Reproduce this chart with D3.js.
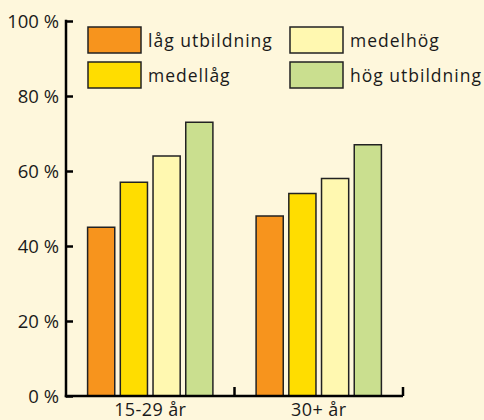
<!DOCTYPE html>
<html>
<head>
<meta charset="utf-8">
<script src="https://cdn.jsdelivr.net/npm/d3@7"></script>
<style>
  html, body { margin: 0; padding: 0; background: #fef7dc; }
  svg { display: block; }
  text { font-family: "Open Sans", "Noto Sans", sans-serif; fill: #1a1a1a; }
</style>
</head>
<body>
<script>
// Age groups along the x axis
const groups = ["15-29 år", "30+ år"];
// Education levels (one bar each per group)
const levels = ["låg utbildning", "medellåg", "medelhög", "hög utbildning"];
// Share in percent, one array per education level, ordered as groups
const lagUtbildning = [45, 48];
const medellag = [57, 54];
const medelhog = [64, 58];
const hogUtbildning = [73, 67];
// Y axis ticks
const yTicks = [0, 20, 40, 60, 80, 100];
const colors = ["#f7941d", "#ffdd00", "#fff8b0", "#cadf8f"];

const series = [lagUtbildning, medellag, medelhog, hogUtbildning];
const rows = groups.map((g, i) => ({ group: g, values: series.map(s => s[i]) }));

const W = 484, H = 420;
const margin = { left: 66, right: 81, top: 21, bottom: 24 };

const svg = d3.select("body").append("svg").attr("width", W).attr("height", H);
svg.append("rect").attr("width", W).attr("height", H).attr("fill", "#fef7dc");

const x0 = d3.scaleBand().domain(groups)
  .range([margin.left, W - margin.right]).paddingInner(0).paddingOuter(0);
const x1 = d3.scaleBand().domain(levels)
  .range([0, x0.bandwidth()]).paddingInner(0.17).paddingOuter(0.66);
const y = d3.scaleLinear().domain([0, 100]).range([H - margin.bottom, margin.top]);

// Bars
const g = svg.append("g");
rows.forEach(r => {
  g.selectAll(null).data(r.values.map((v, i) => ({ v, level: levels[i], i })))
    .join("rect")
    .attr("x", d => x0(r.group) + x1(d.level))
    .attr("y", d => y(d.v))
    .attr("width", x1.bandwidth())
    .attr("height", d => y(0) - y(d.v))
    .attr("fill", d => colors[d.i])
    .attr("stroke", "#222")
    .attr("stroke-width", 1.5);
});

// Y axis: ticks point inward
const yAxis = svg.append("g").attr("transform", `translate(${margin.left},0)`)
  .call(d3.axisRight(y).tickValues(yTicks).tickSize(7).tickFormat(""));
yAxis.select(".domain").remove();
yAxis.selectAll(".tick line").attr("stroke", "#000").attr("stroke-width", 2.5);
svg.append("line")
  .attr("x1", margin.left).attr("x2", margin.left)
  .attr("y1", y(100) - 1.2).attr("y2", y(0) + 1.2)
  .attr("stroke", "#000").attr("stroke-width", 2.5);
svg.append("g").selectAll("text").data(yTicks).join("text")
  .attr("x", margin.left - 7).attr("y", d => y(d))
  .attr("dy", "0.36em").attr("text-anchor", "end")
  .attr("font-size", 18.5)
  .text(d => d + " %");

// X axis: baseline with upward ticks at band edges
const bounds = [x0.range()[0], ...groups.map(d => x0(d) + x0.bandwidth())];
svg.append("line")
  .attr("x1", margin.left - 1.2).attr("x2", bounds[bounds.length - 1])
  .attr("y1", y(0)).attr("y2", y(0))
  .attr("stroke", "#000").attr("stroke-width", 2.5);
svg.append("g").selectAll("line").data(bounds.slice(1)).join("line")
  .attr("x1", d => d).attr("x2", d => d)
  .attr("y1", y(0)).attr("y2", y(0) - 9)
  .attr("stroke", "#000").attr("stroke-width", 2.5);
svg.append("g").selectAll("text").data(groups).join("text")
  .attr("x", d => x0(d) + x0.bandwidth() / 2).attr("y", H - 4)
  .attr("text-anchor", "middle").attr("font-size", 18).attr("letter-spacing", 0.4)
  .text(d => d);

// Legend in two columns
const legend = svg.append("g");
const legPos = [[88, 27], [88, 62], [290, 27], [290, 62]];
levels.forEach((lv, i) => {
  const [lx, ly] = legPos[i];
  legend.append("rect").attr("x", lx).attr("y", ly).attr("width", 53).attr("height", 26)
    .attr("fill", colors[i]).attr("stroke", "#222").attr("stroke-width", 1.5);
  legend.append("text").attr("x", lx + 60).attr("y", ly + 20)
    .attr("font-size", 17.5).attr("letter-spacing", 1).text(lv);
});
</script>
</body>
</html>
